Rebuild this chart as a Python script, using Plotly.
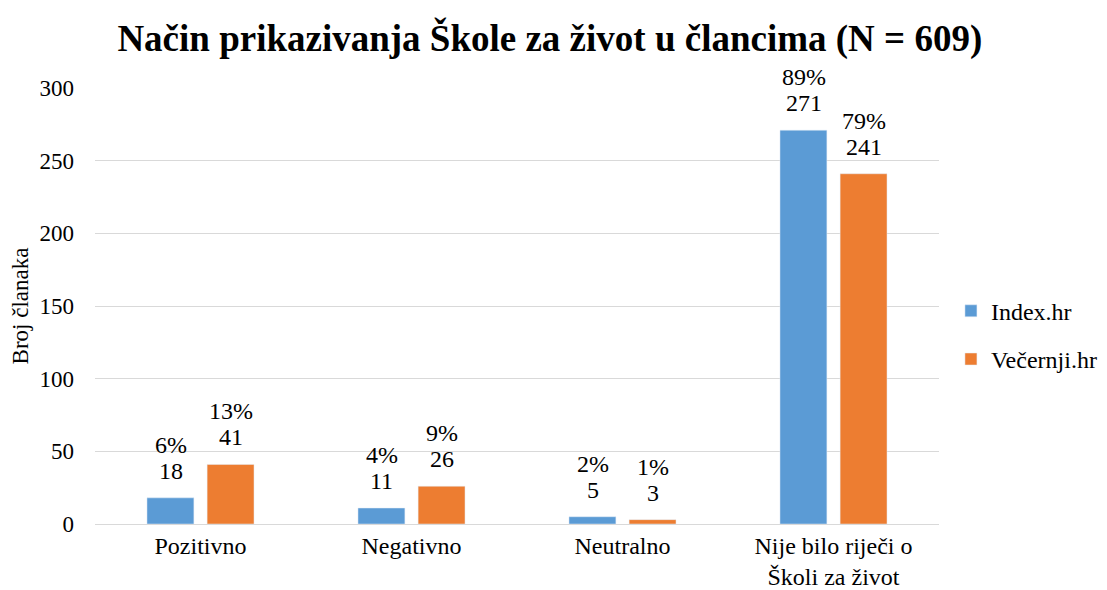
import plotly.graph_objects as go

categories = ["Pozitivno", "Negativno", "Neutralno", "Nije bilo riječi o<br>Školi za život"]
index_vals = [18, 11, 5, 271]
index_pct = ["6%", "4%", "2%", "89%"]
vecernji_vals = [41, 26, 3, 241]
vecernji_pct = ["13%", "9%", "1%", "79%"]

FONT = "Liberation Serif, Times New Roman, serif"
LBL = 24

fig = go.Figure()
fig.add_trace(go.Bar(name="Index.hr", x=categories, y=index_vals,
                     marker_color="#5B9BD5", legendgroup="a"))
fig.add_trace(go.Bar(name="Večernji.hr", x=categories, y=vecernji_vals,
                     marker_color="#ED7D31", legendgroup="b"))

annotations = []
for vals, pcts, shift in [(index_vals, index_pct, -30), (vecernji_vals, vecernji_pct, 30)]:
    for c, v, p in zip(categories, vals, pcts):
        annotations.append(dict(x=c, y=v, xref="x", yref="y", text=str(v), showarrow=False,
                                xshift=shift, yshift=27, yanchor="middle",
                                font=dict(size=LBL, family=FONT, color="#000000")))
        annotations.append(dict(x=c, y=v, xref="x", yref="y", text=p, showarrow=False,
                                xshift=shift, yshift=53, yanchor="middle",
                                font=dict(size=LBL, family=FONT, color="#000000")))

fig.update_layout(
    width=1099, height=582,
    paper_bgcolor="white", plot_bgcolor="white",
    font=dict(family=FONT, size=24, color="#000000"),
    title=dict(text="<b>Način prikazivanja Škole za život u člancima (N = 609)</b>",
               x=0.493, xanchor="center", y=0.948, yanchor="middle",
               font=dict(size=37, family=FONT, color="#000000")),
    margin=dict(l=87, r=168, t=80, b=66),
    barmode="group", bargap=0.43, bargroupgap=0.22,
    showlegend=True,
    legend=dict(xref="container", yref="paper", x=0.858, y=0.433,
                xanchor="left", yanchor="middle",
                font=dict(size=24, family=FONT), tracegroupgap=14,
                traceorder="grouped", itemwidth=30),
    annotations=annotations,
)
fig.update_xaxes(showline=True, linecolor="#D9D9D9", linewidth=1, ticks="",
                 tickfont=dict(size=24), automargin=False, ticklabelstandoff=0)
fig.update_yaxes(range=[0, 300], dtick=50, showgrid=True, gridcolor="#D9D9D9",
                 gridwidth=1, zeroline=False, ticks="", tickfont=dict(size=23),
                 automargin=False, ticklabelstandoff=20,
                 title=dict(text="Broj članaka", font=dict(size=23), standoff=5))

fig.write_html("out.html")
